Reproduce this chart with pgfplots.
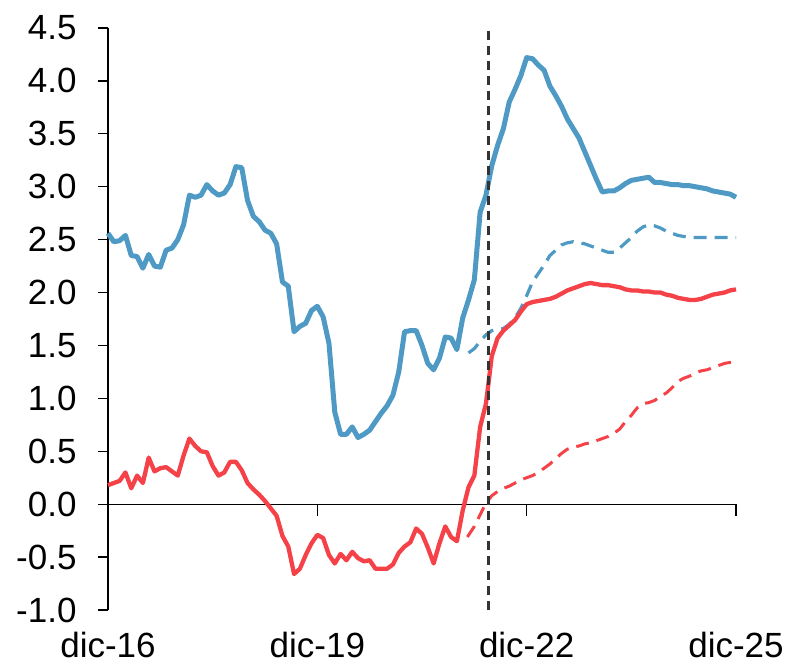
\documentclass[border=0pt]{standalone}
\usepackage{pgfplots}
\pgfplotsset{compat=1.18}
\usepackage{pgfplotstable}
\usetikzlibrary{calc}
\usepackage{fontspec}
\setmainfont{Liberation Sans}
\definecolor{lineblue}{RGB}{78,154,196}
\definecolor{linered}{RGB}{245,66,72}

% month index: 0 = dic-16 ... 108 = dic-25
\pgfplotstableread{
m v
0 2.56
1 2.48
2 2.49
3 2.54
4 2.35
5 2.34
6 2.23
7 2.36
8 2.25
9 2.24
10 2.40
11 2.42
12 2.50
13 2.64
14 2.92
15 2.90
16 2.92
17 3.02
18 2.96
19 2.92
20 2.94
21 3.02
22 3.19
23 3.18
24 2.87
25 2.72
26 2.67
27 2.59
28 2.56
29 2.46
30 2.10
31 2.06
32 1.63
33 1.68
34 1.71
35 1.83
36 1.87
37 1.77
38 1.52
39 0.87
40 0.66
41 0.66
42 0.73
43 0.63
44 0.66
45 0.70
46 0.78
47 0.86
48 0.93
49 1.03
50 1.25
51 1.63
52 1.64
53 1.64
54 1.50
55 1.33
56 1.27
57 1.38
58 1.58
59 1.57
60 1.46
61 1.76
62 1.93
63 2.12
64 2.76
65 2.92
66 3.20
67 3.39
68 3.55
69 3.80
70 3.92
71 4.05
72 4.22
73 4.21
74 4.15
75 4.10
76 3.95
77 3.86
78 3.76
79 3.64
80 3.55
81 3.46
82 3.33
83 3.20
84 3.07
85 2.95
86 2.96
87 2.96
88 2.99
89 3.03
90 3.06
91 3.07
92 3.08
93 3.09
94 3.04
95 3.04
96 3.03
97 3.02
98 3.02
99 3.01
100 3.01
101 3.00
102 2.99
103 2.98
104 2.96
105 2.95
106 2.94
107 2.93
108 2.90
}\bluesolid

\pgfplotstableread{
m v
62 1.43
63 1.47
64 1.54
65 1.60
66 1.64
67 1.65
68 1.66
69 1.70
70 1.76
71 1.85
72 1.97
73 2.10
74 2.18
75 2.26
76 2.35
77 2.40
78 2.45
79 2.47
80 2.48
81 2.47
82 2.46
83 2.44
84 2.42
85 2.40
86 2.38
87 2.38
88 2.42
89 2.47
90 2.52
91 2.58
92 2.62
93 2.64
94 2.63
95 2.61
96 2.58
97 2.56
98 2.54
99 2.53
100 2.52
101 2.52
102 2.52
103 2.52
104 2.52
105 2.52
106 2.52
107 2.52
108 2.52
}\bluedash

\pgfplotstableread{
m v
0 0.18
1 0.20
2 0.22
3 0.30
4 0.15
5 0.27
6 0.20
7 0.44
8 0.31
9 0.34
10 0.35
11 0.31
12 0.27
13 0.46
14 0.62
15 0.55
16 0.50
17 0.49
18 0.36
19 0.27
20 0.30
21 0.40
22 0.40
23 0.32
24 0.20
25 0.14
26 0.09
27 0.03
28 -0.04
29 -0.11
30 -0.30
31 -0.40
32 -0.66
33 -0.61
34 -0.48
35 -0.37
36 -0.29
37 -0.32
38 -0.48
39 -0.56
40 -0.47
41 -0.53
42 -0.45
43 -0.51
44 -0.54
45 -0.53
46 -0.61
47 -0.61
48 -0.61
49 -0.57
50 -0.46
51 -0.40
52 -0.36
53 -0.23
54 -0.28
55 -0.41
56 -0.56
57 -0.37
58 -0.21
59 -0.31
60 -0.35
61 -0.06
62 0.16
63 0.27
64 0.73
65 0.95
66 1.40
67 1.57
68 1.64
69 1.69
70 1.74
71 1.82
72 1.89
73 1.91
74 1.92
75 1.93
76 1.94
77 1.96
78 1.99
79 2.02
80 2.04
81 2.06
82 2.08
83 2.09
84 2.08
85 2.07
86 2.07
87 2.06
88 2.05
89 2.03
90 2.02
91 2.02
92 2.01
93 2.01
94 2.00
95 2.00
96 1.98
97 1.97
98 1.95
99 1.94
100 1.93
101 1.93
102 1.94
103 1.96
104 1.98
105 1.99
106 2.00
107 2.02
108 2.03
}\redsolid

\pgfplotstableread{
m v
61.8 -0.31
63 -0.21
64 -0.10
65 0.01
66 0.08
67 0.12
68 0.15
69 0.17
70 0.20
71 0.23
72 0.25
73 0.27
74 0.30
75 0.34
76 0.38
77 0.43
78 0.48
79 0.52
80 0.54
81 0.55
82 0.57
83 0.58
84 0.60
85 0.62
86 0.64
87 0.67
88 0.71
89 0.78
90 0.84
91 0.91
92 0.95
93 0.96
94 0.98
95 1.02
96 1.05
97 1.10
98 1.16
99 1.19
100 1.21
101 1.24
102 1.26
103 1.27
104 1.29
105 1.31
106 1.33
107 1.34
108 1.35
}\reddash

\begin{document}
\begin{tikzpicture}
\begin{axis}[
    scale only axis,
    width=628pt,
    height=582pt,
    xmin=0, xmax=108,
    ymin=-1, ymax=4.5,
    clip=false,
    axis y line*=left,
    axis x line*=bottom,
    axis line style={-, line width=1.3pt, black},
    x axis line style={draw=none},
    xtick={0,36,72,108},
    xticklabels={dic-16,dic-19,dic-22,dic-25},
    xtick style={draw=none},
    ytick={-1,-0.5,0,0.5,1,1.5,2,2.5,3,3.5,4,4.5},
    yticklabels={-1.0,-0.5,0.0,0.5,1.0,1.5,2.0,2.5,3.0,3.5,4.0,4.5},
    ytick style={line width=1.3pt, black},
    tick align=outside,
    major tick length=10pt,
    tick label style={font=\fontsize{35}{40}\selectfont},
    yticklabel style={xshift=-18pt},
    xticklabel style={yshift=-9pt},
]
\draw[line width=1.3pt] (axis cs:0,0) -- (axis cs:108,0);
\draw[line width=1.3pt] (axis cs:36,0) -- ([yshift=-12pt]axis cs:36,0);
\draw[line width=1.3pt] (axis cs:72,0) -- ([yshift=-12pt]axis cs:72,0);
\draw[line width=1.3pt] (axis cs:108,0) -- ([yshift=-12pt]axis cs:108,0);

\addplot[lineblue, line width=3.2pt, dash pattern=on 13pt off 8pt] table[x=m, y=v] {\bluedash};
\addplot[linered, line width=3pt, dash pattern=on 13pt off 8pt] table[x=m, y=v] {\reddash};
\addplot[lineblue, line width=5pt, line join=round] table[x=m, y=v] {\bluesolid};
\addplot[linered, line width=4.3pt, line join=round] table[x=m, y=v] {\redsolid};
\addplot[black!80, line width=2.8pt, dash pattern=on 9pt off 6pt] coordinates {(65.4,-1) (65.4,4.5)};
\end{axis}
\pgfresetboundingbox
\path ($(current axis.south west)+(-108pt,-59pt)$) rectangle ($(current axis.north east)+(50pt,28pt)$);
\end{tikzpicture}
\end{document}
